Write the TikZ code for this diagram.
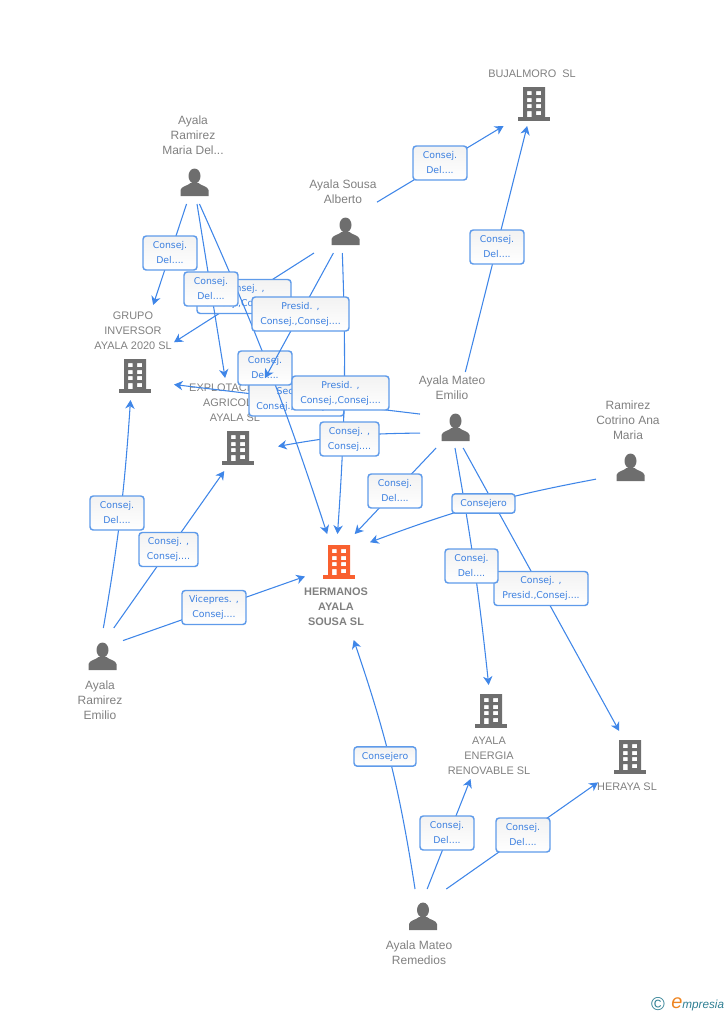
\documentclass[tikz,border=0pt]{standalone}
\usepackage{fontspec}
\setmainfont{Liberation Sans}
\newfontfamily\tagfont{DejaVu Sans}
\usetikzlibrary{arrows.meta}
\definecolor{linkblue}{HTML}{3F86E8}
\definecolor{tagedge}{HTML}{5F9BEA}
\definecolor{tagtext}{HTML}{3C80E0}
\definecolor{icongrey}{HTML}{6E6E6E}
\definecolor{namegrey}{HTML}{808080}
\definecolor{mainorange}{HTML}{F9602F}
\definecolor{logoteal}{HTML}{2F7F93}
\definecolor{logoorange}{HTML}{EE8420}
\tikzset{
	holder/.style 2 args={inner sep=0pt,outer sep=0pt,minimum width=#1*0.75pt,minimum height=#2*0.75pt},
	personname/.style={inner sep=0pt,align=center,text=namegrey,font=\fontsize{9}{11.25}\selectfont},
	firmname/.style={inner sep=0pt,align=center,text=namegrey,font=\fontsize{8.2}{11.25}\selectfont},
	mainname/.style={firmname,font=\fontsize{8.2}{11.25}\selectfont\bfseries},
	link/.style={linkblue,line width=0.8pt},
	arrowlink/.style={link,-{Stealth[length=6.5pt,width=7pt,inset=2pt]}},
	tag/.style={draw=tagedge,line width=1.1pt,rounded corners=2.4pt,top color=black!5,bottom color=white,inner sep=0pt,
		align=center,text=tagtext,font=\tagfont\fontsize{7}{11.25}\selectfont,minimum height=25.5pt,minimum width=#1*0.75pt},
	onetag/.style={tag=#1,minimum height=14.5pt},
	person/.pic={
		\fill[icongrey] (0,-7) ellipse (6 and 7.5);
		\fill[icongrey] (-14,13) -- (-14,7) .. controls (-13,3) and (-7,3) .. (-4,0) -- (4,0) .. controls (7,3) and (13,3) .. (14,7) -- (14,13) -- cycle;
	},
	tower/.pic={
		\fill[#1,even odd rule] (-11,-17) rectangle (11,13)
			(-7,-13) rectangle (-2.5,-9) (2,-13) rectangle (7,-9)
			(-7,-6) rectangle (-2.5,-2) (2,-6) rectangle (7,-2)
			(-7,0) rectangle (-2.5,4) (2,0) rectangle (7,4)
			(-7,7) rectangle (-2.5,13) (2,7) rectangle (7,11);
		\fill[#1] (-16,13) rectangle (16,17);
	},
}
\begin{document}
\begin{tikzpicture}[x=0.75pt,y=-0.75pt]
	\useasboundingbox (0,0) rectangle (728,1015);
	\node[holder={88}{61}] (bujal) at (532,95.5) {};
	\node[holder={66}{92}] (maria) at (193,158) {};
	\node[holder={68}{77}] (alberto) at (343,214.5) {};
	\node[holder={82}{95}] (grupo) at (133,352.5) {};
	\node[holder={86}{93}] (explot) at (235,424.5) {};
	\node[holder={66}{76}] (mateo) at (453,410) {};
	\node[holder={64}{86}] (cotrino) at (628,441) {};
	\node[holder={65}{106}] (hermanos) at (337.5,587) {};
	\node[holder={46}{96}] (emilio) at (100,676) {};
	\node[holder={85}{94}] (energia) at (489.5,732) {};
	\node[holder={62}{64}] (heraya) at (629,763) {};
	\node[holder={70}{81}] (remedios) at (420,929.5) {};

	\node[firmname] (bujalname) at (532,74) {BUJALMORO\ \ SL};
	\node[personname] (marianame) at (193,135) {Ayala\\Ramirez\\Maria Del...};
	\node[personname] (albertoname) at (343,191.5) {Ayala Sousa\\Alberto};
	\node[firmname] (gruponame) at (133,331) {GRUPO\\INVERSOR\\AYALA 2020 SL};
	\node[firmname] (explotname) at (235,403) {EXPLOTACIONES\\AGRICOLAS\\AYALA SL};
	\node[personname] (mateoname) at (452,387.5) {Ayala Mateo\\Emilio};
	\node[personname] (cotrinoname) at (628,420) {Ramirez\\Cotrino Ana\\Maria};
	\node[mainname] (hermanosname) at (336,607) {HERMANOS\\AYALA\\SOUSA SL};
	\node[personname] (emilioname) at (100,700) {Ayala\\Ramirez\\Emilio};
	\node[firmname] (energianame) at (489,756) {AYALA\\ENERGIA\\RENOVABLE SL};
	\node[firmname] (herayaname) at (627,787) {HERAYA SL};
	\node[personname] (remediosname) at (419,952.5) {Ayala Mateo\\Remedios};

	\pic at (534,104) {tower=icongrey};
	\pic at (194.5,183) {person};
	\pic at (345.5,232) {person};
	\pic at (135,376) {tower=icongrey};
	\pic at (238,448) {tower=icongrey};
	\pic at (455.5,428) {person};
	\pic at (630.5,468) {person};
	\pic at (339,562) {tower=mainorange};
	\pic at (102.5,657) {person};
	\pic at (491,711) {tower=icongrey};
	\pic at (630,757) {tower=icongrey};
	\pic at (423,917) {person};

	\draw[arrowlink] (alberto.20.2) -- (bujal.-133.6);
	\node[tag=54] (tagbujalA) at (440,163) {Consej.\\Del....};
	\draw[arrowlink] (mateo.72.5) -- (bujal.-99.3);
	\node[tag=54] (tagbujalB) at (497,247) {Consej.\\Del....};
	\draw[arrowlink] (maria.-98.7) -- (grupo.67.2);
	\node[tag=54] (taggrupoA) at (170,253) {Consej.\\Del....};
	\draw[arrowlink] (alberto.-127.9) -- (grupo.14.4);
	\node[tag=94] (taggrupoB) at (244,296.5) {Consej. ,\\Consej.,Consej....};
	\draw[arrowlink] (mateo.-173.1) -- (grupo.-38.4);
	\node[tag=95] (taggrupoC) at (296.5,399) {Secret. ,\\Consej.,Consej....};
	\draw[arrowlink] (maria.-82.6) to[bend left=3] (hermanos.101.2);
	\node[tag=54] (tagmainA) at (265,368) {Consej.\\Del....};
	\draw[arrowlink] (maria.-85) -- (explot.102.1);
	\node[tag=54] (tagexplotA) at (211,289) {Consej.\\Del....};
	\draw[arrowlink] (alberto.-91.5) to[bend left=3] (hermanos.90.5);
	\draw[arrowlink] (alberto.-104.6) -- (explot.57.2);
	\node[tag=97] (tagexplotB) at (300.5,314) {Presid. ,\\Consej.,Consej....};
	\node[tag=97] (tagmainB) at (340.5,393) {Presid. ,\\Consej.,Consej....};
	\draw[arrowlink] (mateo.-145.1) to[bend right=5] (explot.-27.6);
	\node[tag=59] (tagexplotC) at (349.5,439) {Consej. ,\\Consej....};
	\draw[arrowlink] (mateo.-114.1) -- (hermanos.72.7);
	\node[tag=54] (tagmainC) at (395,491) {Consej.\\Del....};
	\draw[arrowlink] (mateo.-75.3) -- (heraya.107.4);
	\node[tag=94] (tagheraya) at (541,588.5) {Consej. ,\\Presid.,Consej....};
	\draw[arrowlink] (mateo.-87) to[bend left=2] (energia.91.8);
	\node[tag=53] (tagenergia) at (471.5,566) {Consej.\\Del....};
	\draw[arrowlink] (cotrino.-130.9) to[bend right=5] (hermanos.54.2);
	\node[onetag=63] (tagmainD) at (483.5,503.5) {Consejero};
	\draw[arrowlink] (emilio.86.4) to[bend right=3] (grupo.-93.6);
	\node[tag=54] (taggrupoD) at (117,513) {Consej.\\Del....};
	\draw[arrowlink] (emilio.74.9) -- (explot.-103.3);
	\node[tag=59] (tagexplotD) at (168.5,549.5) {Consej. ,\\Consej....};
	\draw[arrowlink] (emilio.57.4) -- (hermanos.162.9);
	\node[tag=64] (tagmainE) at (214,607.5) {Vicepres. ,\\Consej....};
	\draw[arrowlink] (remedios.97) to[bend right=5] (hermanos.-73.7);
	\node[onetag=62] (tagmainF) at (385,756.5) {Consejero};
	\draw[arrowlink] (remedios.80.2) -- (energia.-112.5);
	\node[tag=54] (tagenergiaB) at (447,833) {Consej.\\Del....};
	\draw[arrowlink] (remedios.57.3) -- (heraya.-148.5);
	\node[tag=54] (tagherayaB) at (523,835) {Consej.\\Del....};

	\node[inner sep=0pt,text=logoteal,font=\fontsize{14}{14}\selectfont] (logomark) at (658,1004) {©};
	\node[inner sep=0pt,anchor=base west,text=logoteal,font=\fontsize{8.8}{10}\selectfont\itshape] (logoname) at (671,1008)
		{\textcolor{logoorange}{\fontsize{15}{15}\selectfont e}mpresia};
\end{tikzpicture}
\end{document}
